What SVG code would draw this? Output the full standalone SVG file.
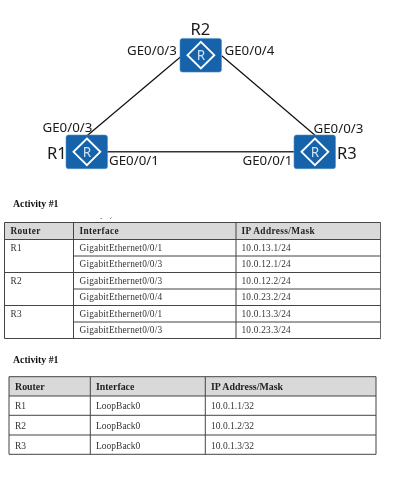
<svg xmlns="http://www.w3.org/2000/svg" width="405" height="483" viewBox="0 0 405 483">
<style>
.g{font-family:"Noto Sans","Open Sans",sans-serif;font-size:13.3px;fill:#1a1a1a}
.n{font-family:"Noto Sans","Open Sans",sans-serif;font-size:16.5px;fill:#1a1a1a}
.t{font-family:"Liberation Serif",serif;font-size:9.3px;fill:#333;letter-spacing:.22px}
.h{font-family:"Liberation Serif",serif;font-size:9.3px;font-weight:bold;fill:#222;letter-spacing:.38px}
.u{font-family:"Liberation Serif",serif;font-size:9.5px;fill:#333}
.v{font-family:"Liberation Serif",serif;font-size:9.9px;font-weight:bold;fill:#222}
.a{font-family:"Liberation Serif",serif;font-size:9.8px;font-weight:bold;fill:#111}
.l{stroke:#444;stroke-width:1;fill:none}
.box{fill:#1262ab;stroke:#5b93c6;stroke-width:.6}
.d{fill:none;stroke:#fff;stroke-width:1.9}
.r{font-family:"Noto Sans",sans-serif;font-size:13.5px;fill:#cfe3f3;text-anchor:middle}
</style>
<defs>
<filter id="soft" x="0" y="0" width="100%" height="100%"><feGaussianBlur stdDeviation="0.3"/></filter>
<g id="rt">
<rect class="box" x="0" y="0" width="41.5" height="33.7" rx="2.5"/>
<path class="d" d="M20.9 3.5L34.3 16.8L20.9 30.1L7.5 16.8Z"/>
<text class="r" x="20.9" y="21.7">R</text>
</g>
</defs>
<g filter="url(#soft)">
<g id="connectors" fill="none" stroke="#111">
<path d="M86.7 136L180.7 56.7" stroke-width="1.2"/>
<path d="M221.7 55.7L315 135.3" stroke-width="1.2"/>
<path d="M107 151.7H294" stroke="#333" stroke-width="1.5"/>
</g>
<g id="R2"><use href="#rt" x="180" y="38.4"/><text class="n" x="190.5" y="35">R2</text><text class="g" x="127" y="55">GE0/0/3</text><text class="g" x="224.5" y="55">GE0/0/4</text></g>
<g id="R1"><use href="#rt" x="66" y="135"/><text class="n" x="47" y="159">R1</text><text class="g" x="42.5" y="132">GE0/0/3</text><text class="g" x="109" y="165">GE0/0/1</text></g>
<g id="R3"><use href="#rt" x="294" y="135"/><text class="n" x="337" y="159">R3</text><text class="g" x="313.5" y="133">GE0/0/3</text><text class="g" x="242.5" y="165">GE0/0/1</text></g>
<g id="table1">
<text class="a" x="13" y="207">Activity #1</text>
<path d="M100.5 218.5h1.5M110 219l1.5-1.5" stroke="#555" stroke-width=".7" fill="none"/>
<rect x="4.5" y="222.5" width="376.2" height="17" fill="#d9d9d9"/>
<path class="l" d="M4.5 222.5H380.7M4.5 239.5H380.7M73.5 256H380.7M4.5 272.5H380.7M73.5 289H380.7M4.5 305.5H380.7M73.5 322H380.7M4.5 338.5H380.7M4.5 222.5V338.5M73.5 222.5V338.5M236 222.5V338.5M380.7 222.5V338.5"/>
<text class="h" x="10.5" y="234">Router</text><text class="h" x="79.5" y="234">Interface</text><text class="h" x="241.5" y="234">IP Address/Mask</text>
<text class="t" x="10.5" y="251">R1</text><text class="t" x="79.5" y="251">GigabitEthernet0/0/1</text><text class="t" x="241.5" y="251">10.0.13.1/24</text>
<text class="t" x="79.5" y="267">GigabitEthernet0/0/3</text><text class="t" x="241.5" y="267">10.0.12.1/24</text>
<text class="t" x="10.5" y="284">R2</text><text class="t" x="79.5" y="284">GigabitEthernet0/0/3</text><text class="t" x="241.5" y="284">10.0.12.2/24</text>
<text class="t" x="79.5" y="300">GigabitEthernet0/0/4</text><text class="t" x="241.5" y="300">10.0.23.2/24</text>
<text class="t" x="10.5" y="317">R3</text><text class="t" x="79.5" y="317">GigabitEthernet0/0/1</text><text class="t" x="241.5" y="317">10.0.13.3/24</text>
<text class="t" x="79.5" y="333">GigabitEthernet0/0/3</text><text class="t" x="241.5" y="333">10.0.23.3/24</text>
</g>
<g id="table2">
<text class="a" x="13" y="363">Activity #1</text>
<rect x="9" y="376.7" width="367" height="19.3" fill="#d9d9d9"/>
<path class="l" d="M9 376.7H376M9 396H376M9 415.3H376M9 435H376M9 454.3H376M9 376.7V454.3M90.3 376.7V454.3M205.3 376.7V454.3M376 376.7V454.3"/>
<text class="v" x="15" y="390">Router</text><text class="v" x="96" y="390">Interface</text><text class="v" x="211" y="390">IP Address/Mask</text>
<text class="u" x="15" y="409">R1</text><text class="u" x="96" y="409">LoopBack0</text><text class="u" x="211" y="409">10.0.1.1/32</text>
<text class="u" x="15" y="429">R2</text><text class="u" x="96" y="429">LoopBack0</text><text class="u" x="211" y="429">10.0.1.2/32</text>
<text class="u" x="15" y="449">R3</text><text class="u" x="96" y="449">LoopBack0</text><text class="u" x="211" y="449">10.0.1.3/32</text>
</g>
</g>
</svg>
